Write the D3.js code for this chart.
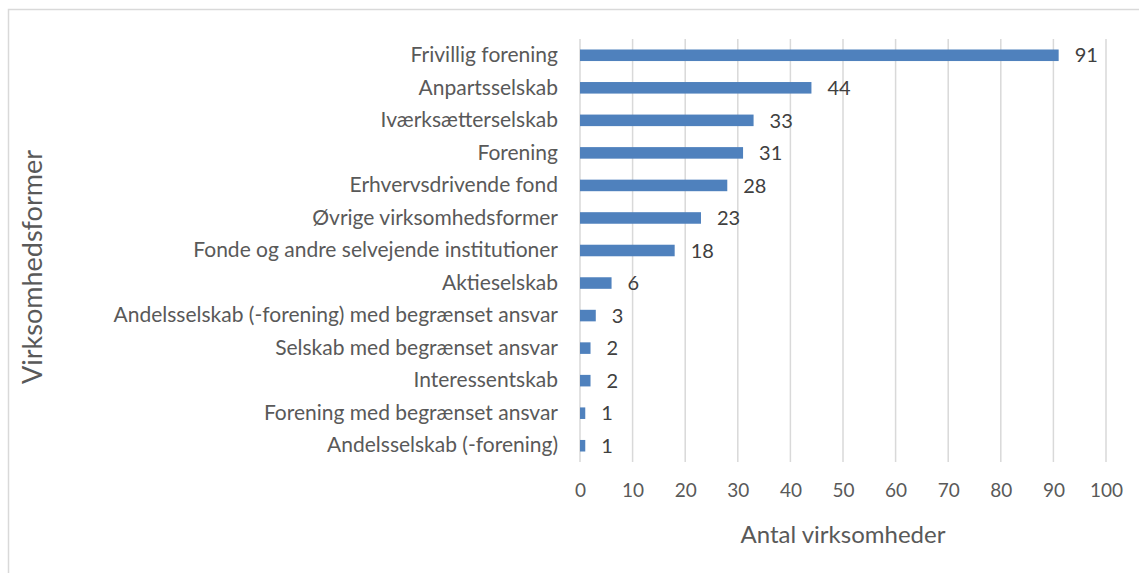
<!DOCTYPE html>
<html>
<head>
<meta charset="utf-8">
<script src="https://cdn.jsdelivr.net/npm/d3@7"></script>
<style>
  body { margin: 0; background: #fff; }
  text { font-family: Lato, "Open Sans", sans-serif; fill: #595959; }
</style>
</head>
<body>
<div id="chart"></div>
<script>
// categories, top to bottom
var categories = [
    "Frivillig forening",
    "Anpartsselskab",
    "Iværksætterselskab",
    "Forening",
    "Erhvervsdrivende fond",
    "Øvrige virksomhedsformer",
    "Fonde og andre selvejende institutioner",
    "Aktieselskab",
    "Andelsselskab (-forening) med begrænset ansvar",
    "Selskab med begrænset ansvar",
    "Interessentskab",
    "Forening med begrænset ansvar",
    "Andelsselskab (-forening)"
];
var counts = [91, 44, 33, 31, 28, 23, 18, 6, 3, 2, 2, 1, 1];
var xTicks = [0, 10, 20, 30, 40, 50, 60, 70, 80, 90, 100];

var W = 1139, H = 573;
var margin = { top: 39, right: 33, bottom: 111, left: 580 },
    width = W - margin.left - margin.right,
    height = H - margin.top - margin.bottom;

var barColor = "#4f81bd";
var gridColor = "#d9d9d9";
var font = "Lato, 'Open Sans', sans-serif";

var root = d3.select("#chart")
    .append("svg")
    .attr("width", W)
    .attr("height", H);

// chart area border (only left and top visible)
root.append("rect")
    .attr("x", 8.5)
    .attr("y", 9.5)
    .attr("width", W + 20)
    .attr("height", H + 20)
    .attr("fill", "none")
    .attr("stroke", gridColor)
    .attr("stroke-width", 1.5);

var svg = root.append("g")
    .attr("transform", "translate(" + margin.left + "," + margin.top + ")");

var x = d3.scaleLinear()
    .domain([0, 100])
    .range([0, width]);

var y = d3.scaleBand()
    .domain(categories)
    .range([0, height])
    .paddingInner(0.645)
    .paddingOuter(0.3225);

// vertical gridlines
svg.selectAll(".grid")
    .data(xTicks)
    .enter().append("line")
    .attr("x1", function (d) { return x(d); })
    .attr("x2", function (d) { return x(d); })
    .attr("y1", 0)
    .attr("y2", height)
    .attr("stroke", gridColor)
    .attr("stroke-width", 1.5);

// x tick labels
var xAxis = svg.append("g")
    .attr("transform", "translate(0," + height + ")")
    .call(d3.axisBottom(x).tickValues(xTicks).tickSize(0).tickPadding(22));
xAxis.select(".domain").remove();
xAxis.selectAll("text")
    .style("font-family", font)
    .style("font-size", "19px")
    .style("fill", "#595959");

// y category labels
var yAxis = svg.append("g")
    .call(d3.axisLeft(y).tickSize(0).tickPadding(22));
yAxis.select(".domain").remove();
yAxis.selectAll("text")
    .style("font-family", font)
    .style("font-size", "21px")
    .style("fill", "#595959");

// bars
svg.selectAll(".bar")
    .data(counts)
    .enter().append("rect")
    .attr("x", x(0))
    .attr("y", function (d, i) { return y(categories[i]); })
    .attr("width", function (d) { return x(d) - x(0); })
    .attr("height", y.bandwidth())
    .attr("fill", barColor);

// value labels
svg.selectAll(".value")
    .data(counts)
    .enter().append("text")
    .attr("x", function (d) { return x(d) + 16; })
    .attr("y", function (d, i) { return y(categories[i]) + y.bandwidth() / 2; })
    .attr("dy", "0.36em")
    .style("font-size", "20px")
    .style("fill", "#404040")
    .text(function (d) { return d; });

// axis titles
svg.append("text")
    .attr("x", width / 2 - 0)
    .attr("y", height + 81)
    .attr("text-anchor", "middle")
    .style("font-size", "24px")
    .text("Antal virksomheder");

svg.append("text")
    .attr("transform", "rotate(-90)")
    .attr("x", -(267 - margin.top))
    .attr("y", -(margin.left - 42))
    .attr("text-anchor", "middle")
    .style("font-size", "27px")
    .text("Virksomhedsformer");
</script>
</body>
</html>
